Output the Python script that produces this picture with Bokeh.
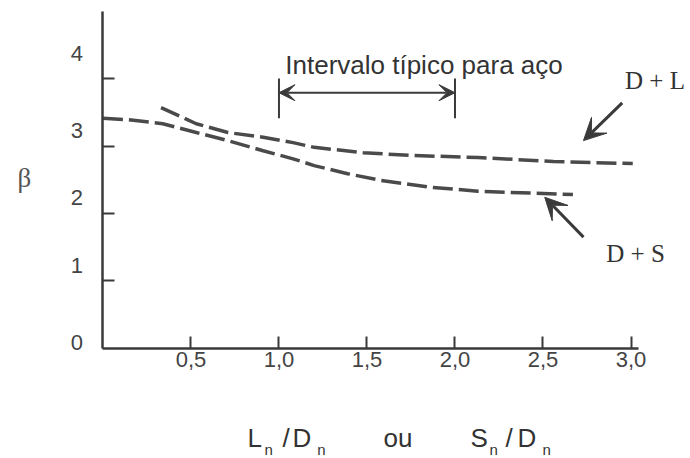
from bokeh.plotting import figure
from bokeh.models import FixedTicker, Arrow, VeeHead, ColumnDataSource
from bokeh.core.properties import value
from bokeh.embed import file_html
from bokeh.resources import INLINE

# ---- data ----
ds_x = [0.0, 0.145, 0.34, 0.53, 0.71, 0.91, 1.08, 1.20, 1.39, 1.58, 1.86, 2.13, 2.67]
ds_y = [3.41, 3.39, 3.33, 3.20, 3.08, 2.93, 2.81, 2.71, 2.59, 2.49, 2.39, 2.33, 2.28]

dl_x = [0.33, 0.53, 0.71, 0.91, 1.08, 1.20, 1.48, 1.76, 2.13, 2.56, 3.01]
dl_y = [3.57, 3.33, 3.20, 3.13, 3.05, 2.98, 2.90, 2.86, 2.83, 2.77, 2.74]

x_ticks = [0.5, 1.0, 1.5, 2.0, 2.5, 3.0]
x_tick_labels = ["0,5", "1,0", "1,5", "2,0", "2,5", "3,0"]
y_ticks = [1, 2, 3, 4]
y_label_pos = [0.09, 1.23, 2.24, 3.23, 4.37]
y_tick_labels = ["0", "1", "2", "3", "4"]

interval = [1.0, 2.0]  # typical range for steel

INK = "#3a3a3a"
LINE = "#4a4a4a"

p = figure(width=690, height=458, x_range=(-0.582, 3.338), y_range=(-1.630, 5.156),
           min_border=0, toolbar_location=None, output_backend="svg")
p.outline_line_color = None
p.grid.visible = False
p.background_fill_color = "white"

# x axis
xa = p.xaxis[0]
xa.fixed_location = 0
xa.bounds = (0, 3.04)
xa.ticker = FixedTicker(ticks=x_ticks, minor_ticks=[])
xa.major_label_overrides = {t: s for t, s in zip(x_ticks, x_tick_labels)}
xa.major_tick_in = 12
xa.major_tick_out = 0
xa.minor_tick_line_color = None
xa.axis_line_width = 2.5
xa.axis_line_color = INK
xa.major_tick_line_width = 2
xa.major_tick_line_color = INK
xa.major_label_standoff = 4
xa.major_label_text_font = "Liberation Sans"
xa.major_label_text_font_size = "22px"
xa.major_label_text_color = "#444444"

# y axis
ya = p.yaxis[0]
ya.fixed_location = 0
ya.bounds = (0, 5.0)
ya.ticker = FixedTicker(ticks=y_label_pos, minor_ticks=y_ticks)
ya.major_label_overrides = {t: s for t, s in zip(y_label_pos, y_tick_labels)}
ya.major_tick_line_color = None
ya.major_tick_in = 0
ya.major_tick_out = 0
ya.minor_tick_in = 12
ya.minor_tick_out = 0
ya.minor_tick_line_width = 2
ya.minor_tick_line_color = INK
ya.axis_line_width = 2.5
ya.axis_line_color = INK
ya.major_label_standoff = 20
ya.major_label_orientation = "horizontal"
ya.major_label_text_font = "Liberation Sans"
ya.major_label_text_font_size = "22px"
ya.major_label_text_color = "#444444"

# curves
p.line(ds_x, ds_y, line_dash="20 6", line_width=3.5, line_color=LINE)
p.line(dl_x, dl_y, line_dash="20 6", line_width=3.5, line_color=LINE)

# interval arrow
p.segment(x0=interval, y0=[3.41, 3.41], x1=interval, y1=[4.0, 4.0], line_width=2, line_color=INK)
p.add_layout(Arrow(x_start=interval[0], y_start=3.79, x_end=interval[1], y_end=3.79,
                   line_width=2, line_color=INK,
                   start=VeeHead(size=16, fill_color=INK, line_color=INK),
                   end=VeeHead(size=16, fill_color=INK, line_color=INK)))
p.text(x=[1.824], y=[4.207], text=["Intervalo típico para aço"], text_align="center",
       text_baseline="alphabetic", text_font=value("Liberation Sans"),
       text_font_size="26px", text_color="#333333")

# series labels with arrows
p.add_layout(Arrow(x_start=2.95, y_start=3.64, x_end=2.73, y_end=3.08, line_width=3,
                   line_color=INK, end=VeeHead(size=22, fill_color=INK, line_color=INK)))
p.add_layout(Arrow(x_start=2.73, y_start=1.65, x_end=2.51, y_end=2.24, line_width=3,
                   line_color=INK, end=VeeHead(size=22, fill_color=INK, line_color=INK)))
p.text(x=[3.136, 3.026], y=[3.97, 1.407], text=["D + L", "D + S"], text_align="center",
       text_baseline="alphabetic", text_font=value("Liberation Serif"),
       text_font_size="25px", text_color="#333333")

# y axis title
p.text(x=[-0.446], y=[2.52], text=["β"], text_align="center", text_baseline="middle",
       text_font=value("Liberation Serif"), text_font_size="27px", text_color="#555555")

# x axis title: L_n /D_n   ou   S_n /D_n
main = ColumnDataSource(dict(x=[0.821, 1.020, 1.077, 1.594, 2.088, 2.287, 2.355],
                             y=[-1.319] * 7,
                             t=["L", "/", "D", "ou", "S", "/", "D"]))
subs = ColumnDataSource(dict(x=[0.918, 1.218, 2.196, 2.497], y=[-1.50] * 4, t=["n"] * 4))
p.text(x="x", y="y", text="t", source=main, text_align="left", text_baseline="alphabetic",
       text_font=value("Liberation Sans"), text_font_size="26px", text_color="#333333")
p.text(x="x", y="y", text="t", source=subs, text_align="left", text_baseline="alphabetic",
       text_font=value("Liberation Sans"), text_font_size="15px", text_color="#333333")

open("out.html", "w").write(file_html(p, INLINE))
